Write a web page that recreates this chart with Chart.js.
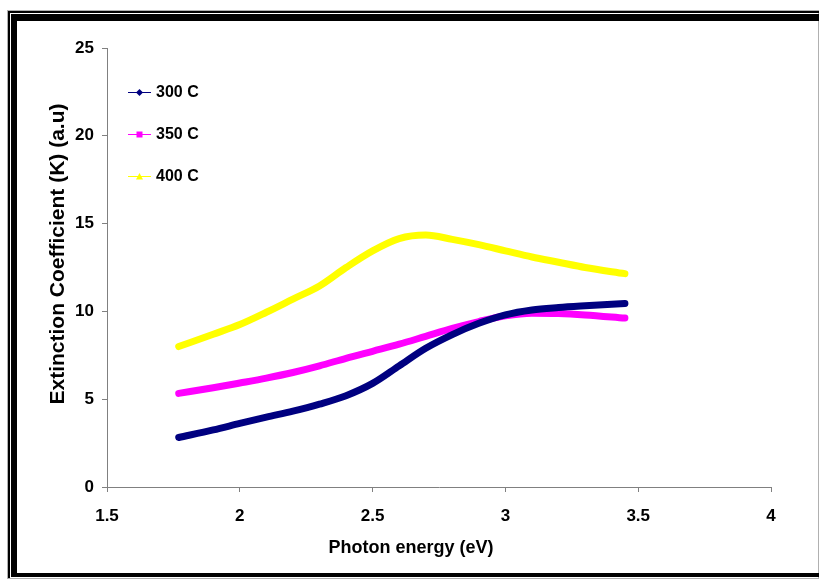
<!DOCTYPE html>
<html>
<head>
<meta charset="utf-8">
<script src="https://cdn.jsdelivr.net/npm/chart.js@4/dist/chart.umd.min.js"></script>
<style>
  html, body { margin: 0; padding: 0; background: #fff; }
  #wrap { width: 819px; height: 579px; position: relative; }
</style>
</head>
<body>
<div id="wrap"><canvas id="chartK" width="819" height="579"></canvas></div>
<script>
// Datos
const energias = [1.77, 1.9, 2.0, 2.1, 2.2, 2.3, 2.4, 2.5, 2.6, 2.7, 2.8, 2.9, 3.0, 3.1, 3.2, 3.3, 3.45];
const k300 = [2.82, 3.25, 3.62, 3.98, 4.32, 4.72, 5.2, 5.9, 6.9, 7.9, 8.68, 9.32, 9.8, 10.08, 10.22, 10.32, 10.45];
const k350 = [5.33, 5.65, 5.92, 6.2, 6.52, 6.9, 7.33, 7.73, 8.13, 8.58, 9.03, 9.42, 9.75, 9.9, 9.88, 9.8, 9.62];
const k400 = [8.0, 8.7, 9.25, 9.95, 10.7, 11.45, 12.5, 13.45, 14.15, 14.35, 14.1, 13.8, 13.45, 13.1, 12.8, 12.5, 12.15];
const etiquetas = ['300 C', '350 C', '400 C'];
const xTicks = [1.5, 2, 2.5, 3, 3.5, 4];
const yTicks = [0, 5, 10, 15, 20, 25];

const COLORES = ['#000080', '#FF00FF', '#FFFF00'];
const MARCAS = ['diamond', 'square', 'triangle'];
const FUENTE = '"Liberation Sans", Arial, sans-serif';

const toPoints = (ys) => energias.map((x, i) => ({ x: x, y: ys[i] }));

// Marco, títulos y leyenda
const extras = {
    id: 'extras',
    beforeDraw(chart) {
        const c = chart.ctx;
        c.save();
        c.fillStyle = '#fff';
        c.fillRect(0, 0, chart.width, chart.height);
        c.restore();
    },
    afterDraw(chart) {
        const c = chart.ctx;
        c.save();

        // marco
        c.strokeStyle = '#b0b0b0';
        c.lineWidth = 1;
        c.strokeRect(7.5, 10.5, 811, 568);
        c.fillStyle = '#000';
        c.fillRect(8, 11, 811, 2);
        c.fillRect(8, 11, 2, 567);
        c.fillRect(11, 14, 808, 7);
        c.fillRect(11, 14, 6, 563);
        c.fillRect(11, 573, 808, 4);

        // títulos de ejes
        c.fillStyle = '#000';
        c.font = 'bold 18px ' + FUENTE;
        c.textAlign = 'center';
        c.textBaseline = 'middle';
        c.fillText('Photon energy (eV)', 411, 548);

        c.translate(58, 254);
        c.rotate(-Math.PI / 2);
        c.font = 'bold 21px ' + FUENTE;
        c.fillText('Extinction Coefficient (K) (a.u)', 0, 0);
        c.setTransform(1, 0, 0, 1, 0, 0);

        // leyenda
        const ys = [92, 134, 176];
        c.font = 'bold 16px ' + FUENTE;
        c.textAlign = 'left';
        etiquetas.forEach((t, i) => {
            const y = ys[i];
            c.strokeStyle = COLORES[i];
            c.lineWidth = 1;
            c.beginPath();
            c.moveTo(128, y + 0.5);
            c.lineTo(151, y + 0.5);
            c.stroke();
            c.fillStyle = COLORES[i];
            const mx = 139.5, my = y + 0.5;
            c.beginPath();
            if (MARCAS[i] === 'diamond') {
                c.moveTo(mx, my - 3.5); c.lineTo(mx + 3.5, my); c.lineTo(mx, my + 3.5); c.lineTo(mx - 3.5, my);
            } else if (MARCAS[i] === 'square') {
                c.rect(mx - 3, my - 3, 6, 6);
            } else {
                c.moveTo(mx, my - 3.5); c.lineTo(mx + 3.5, my + 3); c.lineTo(mx - 3.5, my + 3);
            }
            c.closePath();
            c.fill();
            c.fillStyle = '#000';
            c.fillText(t, 156, y + 1);
        });
        c.restore();
    }
};

const seriesData = [k300, k350, k400];

new Chart(document.getElementById('chartK'), {
    type: 'line',
    data: {
        datasets: seriesData.map((ys, i) => ({
            label: etiquetas[i],
            data: toPoints(ys),
            borderColor: COLORES[i],
            backgroundColor: COLORES[i],
            borderWidth: 7,
            pointRadius: 0,
            cubicInterpolationMode: 'monotone',
            borderCapStyle: 'round',
            fill: false
        }))
    },
    options: {
        responsive: false,
        animation: false,
        layout: { padding: { top: 48, right: 48, left: 0, bottom: 0 } },
        plugins: {
            legend: { display: false },
            tooltip: { enabled: false }
        },
        scales: {
            x: {
                type: 'linear',
                min: 1.5,
                max: 4,
                afterBuildTicks: (s) => { s.ticks = xTicks.map(v => ({ value: v })); },
                afterFit: (s) => { s.height = 92; },
                grid: { drawOnChartArea: false, drawTicks: true, tickLength: 5, color: '#808080' },
                border: { color: '#808080', width: 1 },
                ticks: {
                    padding: 14,
                    color: '#000',
                    font: { family: FUENTE, size: 17, weight: 'bold' },
                    callback: (v) => String(v)
                }
            },
            y: {
                min: 0,
                max: 25,
                afterBuildTicks: (s) => { s.ticks = yTicks.map(v => ({ value: v })); },
                afterFit: (s) => { s.width = 107; },
                grid: { drawOnChartArea: false, drawTicks: true, tickLength: 5, color: '#808080' },
                border: { color: '#808080', width: 1 },
                ticks: {
                    padding: 8,
                    color: '#000',
                    font: { family: FUENTE, size: 17, weight: 'bold' },
                    callback: (v) => String(v)
                }
            }
        }
    },
    plugins: [extras]
});
</script>
</body>
</html>
